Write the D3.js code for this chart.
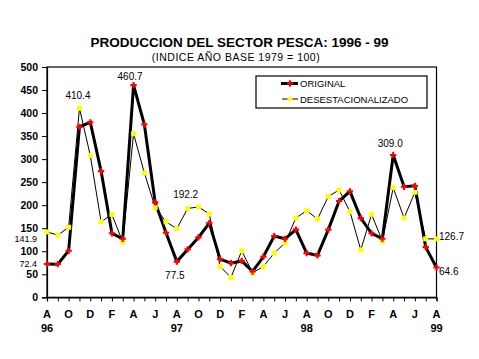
<!DOCTYPE html>
<html><head><meta charset="utf-8">
<script src="https://cdn.jsdelivr.net/npm/d3@7"></script>
<style>body{margin:0;background:#fff;} svg{display:block;}</style>
</head><body>
<script>
const months = ["Ago96","Sep96","Oct96","Nov96","Dic96","Ene97","Feb97","Mar97","Abr97","May97","Jun97","Jul97","Ago97","Sep97","Oct97","Nov97","Dic97","Ene98","Feb98","Mar98","Abr98","May98","Jun98","Jul98","Ago98","Sep98","Oct98","Nov98","Dic98","Ene99","Feb99","Mar99","Abr99","May99","Jun99","Jul99","Ago99"];
const original = [72.4,72,101,370,380,274,139,127,460.7,375,206,140,77.5,104,130,161,83,74,79,56,88,133,127,147,96,91,147,209,230,172,139,127,309.0,240,242,109,64.6];
const desest = [141.9,135,152,410.4,308,164,180,120,355,270,195,164,149,193,196,181,67,43,101,53,67,96,118,172,188,170,219,233,186,103,180,122,238,172,228,127,126.7];
const tickLetters = ["A","O","D","F","A","J","A","O","D","F","A","J","A","O","D","F","A","J","A"];
const yearLabels = [{i:0,t:"96"},{i:12,t:"97"},{i:24,t:"98"},{i:36,t:"99"}];
const yTicks = [0,50,100,150,200,250,300,350,400,450,500];
const annotations = [
  {i:3, v:410.4, t:"410.4", dx:-1.5, dy:-9},
  {i:8, v:460.7, t:"460.7", dx:-3.5, dy:-5.5},
  {i:13, v:193, t:"192.2", dx:-2, dy:-10},
  {i:12, v:77.5, t:"77.5", dx:-2, dy:17.5},
  {i:32, v:309.0, t:"309.0", dx:-3, dy:-8},
];

const W=479,H=359;
const svg=d3.select("body").append("svg").attr("width",W).attr("height",H);
const x=d3.scaleLinear().domain([0,months.length-1]).range([47,436.5]);
const y=d3.scaleLinear().domain([0,500]).range([297.3,67]);
const font="Liberation Sans, Arial, sans-serif";

svg.append("text").attr("x",239.5).attr("y",46.5).attr("text-anchor","middle")
  .attr("font-family",font).attr("font-weight","bold").attr("font-size",13.5).text("PRODUCCION DEL SECTOR PESCA: 1996 - 99");
svg.append("text").attr("x",236).attr("y",60.5).attr("text-anchor","middle")
  .attr("font-family",font).attr("font-size",10.5).attr("letter-spacing",0.5).text("(INDICE AÑO BASE 1979 = 100)");

// frame
svg.append("rect").attr("x",x(0)).attr("y",y(500)).attr("width",x(36)-x(0)).attr("height",y(0)-y(500))
  .attr("fill","none").attr("stroke","#000").attr("stroke-width",1.2);

// y axis
const ya=svg.append("g").attr("transform",`translate(${x(0)},0)`)
  .call(d3.axisLeft(y).tickValues(yTicks).tickSize(5).tickPadding(4));
ya.select(".domain").attr("stroke-width",1.2);
ya.selectAll("text").attr("font-family",font).attr("font-weight","bold").attr("font-size",10.5).attr("fill","#000");

// x axis
const xa=svg.append("g").attr("transform",`translate(0,${y(0)})`)
  .call(d3.axisBottom(x).tickValues(d3.range(months.length)).tickSize(4).tickFormat(""));
xa.select(".domain").attr("stroke-width",1.2);
svg.selectAll(".xl").data(tickLetters).enter().append("text")
  .attr("x",(d,i)=>x(i*2)).attr("y",317.5).attr("text-anchor","middle")
  .attr("font-family",font).attr("font-weight","bold").attr("font-size",11).text(d=>d);
svg.selectAll(".yl").data(yearLabels).enter().append("text")
  .attr("x",d=>x(d.i)).attr("y",331.5).attr("text-anchor","middle")
  .attr("font-family",font).attr("font-weight","bold").attr("font-size",11).text(d=>d.t);

const line=d3.line().x((d,i)=>x(i)).y(d=>y(d));
svg.append("path").datum(desest).attr("d",line).attr("fill","none").attr("stroke","#000").attr("stroke-width",1);
svg.append("path").datum(original).attr("d",line).attr("fill","none").attr("stroke","#000").attr("stroke-width",3);

svg.selectAll(".ym").data(desest).enter().append("rect")
  .attr("x",(d,i)=>x(i)-2.5).attr("y",d=>y(d)-2.5).attr("width",5).attr("height",5).attr("fill","#ffff00");
svg.selectAll(".rm").data(original).enter().append("path")
  .attr("d",d3.symbol().type(d3.symbolCross).size(22))
  .attr("transform",(d,i)=>`translate(${x(i)},${y(d)})`).attr("fill","#ff0000");

// end labels
const lab=(tx,ty,t,anchor,fs)=>svg.append("text").attr("x",tx).attr("y",ty).attr("text-anchor",anchor||"start")
  .attr("font-family",font).attr("font-size",fs||10).attr("fill","#000").text(t);
lab(37,242,"141.9","end",9);
lab(37,267,"72.4","end",9);
lab(x(36)+2.5,y(desest[36])+1.5,"126.7");
lab(x(36)+2.5,y(original[36])+7.5,"64.6");
annotations.forEach(a=>lab(x(a.i)+a.dx,y(a.v)+a.dy,a.t,"middle"));

// legend
const lg=svg.append("g");
lg.append("rect").attr("x",256).attr("y",76).attr("width",171).attr("height",32).attr("fill","#fff").attr("stroke","#000").attr("stroke-width",1.2);
lg.append("line").attr("x1",281).attr("x2",298).attr("y1",83.5).attr("y2",83.5).attr("stroke","#000").attr("stroke-width",3);
lg.append("path").attr("d",d3.symbol().type(d3.symbolCross).size(22)).attr("transform","translate(290,83.5)").attr("fill","#ff0000");
lg.append("line").attr("x1",282).attr("x2",298).attr("y1",99).attr("y2",99).attr("stroke","#000").attr("stroke-width",1);
lg.append("rect").attr("x",287.5).attr("y",97).attr("width",5).attr("height",4).attr("fill","#ffff00");
lg.append("text").attr("x",300).attr("y",87).attr("font-family",font).attr("font-size",9.5).text("ORIGINAL");
lg.append("text").attr("x",300).attr("y",102.5).attr("font-family",font).attr("font-size",9.5).text("DESESTACIONALIZADO");
</script>
</body></html>
